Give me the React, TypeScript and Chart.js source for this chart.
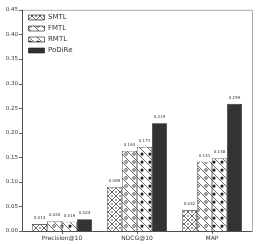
import React, { useEffect, useRef } from 'react';
import { Chart, registerables } from 'chart.js';

Chart.register(...registerables);

const categories = ['Precision@10', 'NDCG@10', 'MAP'];
const seriesNames = ['SMTL', 'FMTL', 'RMTL', 'PoDiRe'];
const smtlValues = [0.014, 0.089, 0.042];
const fmtlValues = [0.020, 0.163, 0.141];
const rmtlValues = [0.019, 0.171, 0.148];
const podireValues = [0.024, 0.219, 0.259];
const yTickValues = [0, 0.05, 0.1, 0.15, 0.2, 0.25, 0.3, 0.35, 0.4, 0.45];

const FONT = '"DejaVu Sans", sans-serif';

function star(g: CanvasRenderingContext2D, cx: number, cy: number, r: number) {
  g.beginPath();
  for (let i = 0; i < 10; i++) {
    const rr = i % 2 ? r * 0.45 : r;
    const a = -Math.PI / 2 + (i * Math.PI) / 5;
    const x = cx + rr * Math.cos(a);
    const y = cy + rr * Math.sin(a);
    if (i) g.lineTo(x, y);
    else g.moveTo(x, y);
  }
  g.closePath();
  g.fill();
}

function makePattern(kind: string): CanvasPattern | string {
  const s = 8;
  const c = document.createElement('canvas');
  c.width = s;
  c.height = s;
  const g = c.getContext('2d');
  if (!g) return '#fff';
  g.fillStyle = '#fff';
  g.fillRect(0, 0, s, s);
  g.strokeStyle = '#222';
  g.fillStyle = '#111';
  g.lineWidth = 0.7;
  const back = () => {
    g.beginPath();
    g.moveTo(-1, -1);
    g.lineTo(s + 1, s + 1);
    g.stroke();
  };
  if (kind === 'x.') {
    back();
    g.beginPath();
    g.moveTo(s + 1, -1);
    g.lineTo(-1, s + 1);
    g.stroke();
    for (const [x, y] of [[0, 4], [8, 4], [4, 0], [4, 8]]) {
      g.beginPath();
      g.arc(x, y, 0.75, 0, Math.PI * 2);
      g.fill();
    }
  } else if (kind === 'o\\') {
    back();
    g.beginPath();
    g.arc(6, 2, 1.4, 0, Math.PI * 2);
    g.stroke();
  } else if (kind === '*\\') {
    back();
    star(g, 6, 2.2, 2.3);
  }
  const p = g.createPattern(c, 'repeat');
  return p || '#fff';
}

const valueLabelPlugin = {
  id: 'valueLabels',
  afterDatasetsDraw(chart: any) {
    const ctx = chart.ctx;
    ctx.save();
    ctx.font = `4px ${FONT}`;
    ctx.fillStyle = '#333';
    ctx.textAlign = 'center';
    ctx.textBaseline = 'middle';
    chart.data.datasets.forEach((ds: any, i: number) => {
      const meta = chart.getDatasetMeta(i);
      meta.data.forEach((el: any, j: number) => {
        ctx.fillText(Number(ds.data[j]).toFixed(3), el.x, el.y - 6);
      });
    });
    ctx.restore();
  },
};

const framePlugin = {
  id: 'frame',
  afterDraw(chart: any) {
    const ctx = chart.ctx;
    const { top, bottom } = chart.chartArea;
    const left = 22;
    const right = 252;
    const y = chart.scales.y;
    const x = chart.scales.x;
    ctx.save();
    ctx.lineWidth = 0.8;
    ctx.strokeStyle = '#999';
    ctx.beginPath();
    ctx.moveTo(left, top + 0.5);
    ctx.lineTo(right + 0.5, top + 0.5);
    ctx.lineTo(right + 0.5, bottom);
    ctx.stroke();
    ctx.strokeStyle = '#222';
    ctx.beginPath();
    ctx.moveTo(left + 0.5, top);
    ctx.lineTo(left + 0.5, bottom + 0.5);
    ctx.lineTo(right + 0.5, bottom + 0.5);
    ctx.stroke();
    ctx.lineWidth = 0.7;
    yTickValues.forEach((v) => {
      const py = Math.round(y.getPixelForValue(v)) + 0.5;
      ctx.beginPath();
      ctx.moveTo(left - 3, py);
      ctx.lineTo(left, py);
      ctx.stroke();
    });
    categories.forEach((_, i) => {
      const px = Math.round(x.getPixelForValue(i)) + 0.5;
      ctx.beginPath();
      ctx.moveTo(px, bottom);
      ctx.lineTo(px, bottom + 3);
      ctx.stroke();
    });
    ctx.restore();
  },
};

export default function App() {
  const ref = useRef<HTMLCanvasElement | null>(null);
  useEffect(() => {
    if (!ref.current) return;
    const fills = [makePattern('x.'), makePattern('o\\'), makePattern('*\\'), '#333333'];
    const values = [smtlValues, fmtlValues, rmtlValues, podireValues];
    const chart = new Chart(ref.current, {
      type: 'bar',
      data: {
        labels: categories,
        datasets: seriesNames.map((name, i) => ({
          label: name,
          data: values[i],
          backgroundColor: fills[i] as any,
          borderColor: '#111',
          borderWidth: 0.6,
          categoryPercentage: 0.8,
          barPercentage: 1,
        })),
      },
      options: {
        responsive: false,
        animation: false,
        devicePixelRatio: 1,
        layout: { padding: { left: 0, top: 5, right: 7.5, bottom: 0 } },
        plugins: {
          tooltip: { enabled: false },
          legend: {
            position: 'chartArea' as any,
            align: 'start',
            title: { display: true, text: ' ', font: { size: 10, lineHeight: 1 }, padding: 0 },
            labels: {
              boxWidth: 16,
              boxHeight: 5,
              padding: 4,
              color: '#333',
              font: { family: FONT, size: 7 },
            },
          },
        },
        scales: {
          x: {
            type: 'category',
            offset: true,
            grid: { display: false, drawTicks: false },
            border: { display: false },
            ticks: { color: '#333', font: { family: FONT, size: 6 }, padding: 4, maxRotation: 0 },
            afterFit: (s: any) => {
              s.height = 13;
            },
          },
          y: {
            type: 'linear',
            min: 0,
            max: 0.45,
            grid: { display: false, drawTicks: false },
            border: { display: false },
            ticks: {
              stepSize: 0.05,
              color: '#333',
              font: { family: FONT, size: 5.5 },
              padding: 6.5,
              callback: (v: any) => Number(v).toFixed(2),
            },
            afterBuildTicks: (s: any) => {
              s.ticks = yTickValues.map((v) => ({ value: v }));
            },
            afterFit: (s: any) => {
              s.width = 24.5;
            },
          },
        },
      },
      plugins: [valueLabelPlugin, framePlugin],
    });
    return () => chart.destroy();
  }, []);
  return (
    <div style={{ position: 'fixed', left: 0, top: 0, width: 257, height: 244, background: '#fff' }}>
      <canvas ref={ref} width={257} height={244} style={{ display: 'block', width: 257, height: 244 }} />
    </div>
  );
}
